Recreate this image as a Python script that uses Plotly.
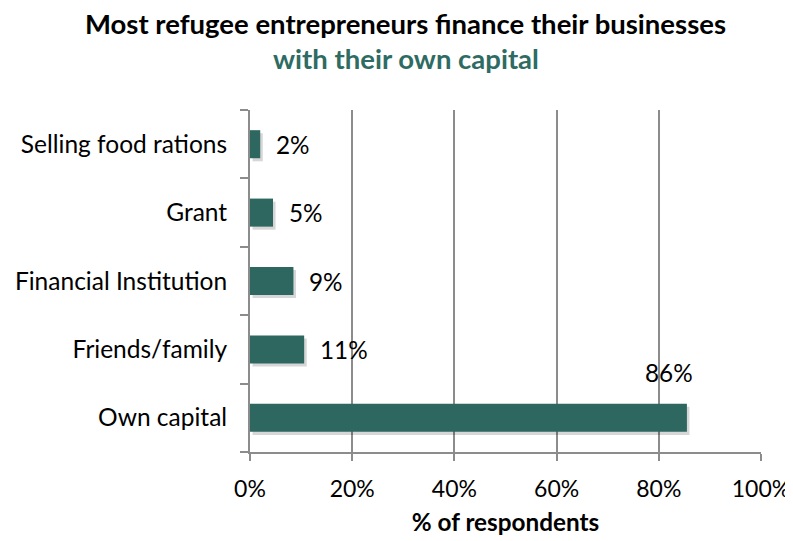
import plotly.graph_objects as go

categories = ["Own capital", "Friends/family", "Financial Institution", "Grant", "Selling food rations"]
values = [85.5, 10.6, 8.5, 4.5, 2.0]
labels = ["86%", "11%", "9%", "5%", "2%"]
x_ticks = [0, 20, 40, 60, 80, 100]
x_tick_labels = ["0%", "20%", "40%", "60%", "80%", "100%"]

BAR = "#2d6760"
TEAL = "#2e6b62"
GRID = "#8c8c8c"
FONT = "Lato"
FS = 24.5

fig = go.Figure()
# soft shadow (style only)
fig.add_trace(go.Bar(
    y=categories, x=values, orientation="h", width=0.41, base=0.5,
    marker=dict(color="rgba(0,0,0,0.16)", line=dict(width=0)),
    offset=-0.25, hoverinfo="skip", showlegend=False,
))
fig.add_trace(go.Bar(
    y=categories, x=values, orientation="h", width=0.41,
    marker=dict(color=BAR, line=dict(width=0)),
    offset=-0.205, showlegend=False,
))

for cat, v, lab in zip(categories, values, labels):
    if v > 50:
        fig.add_annotation(x=v, y=cat, text=lab, showarrow=False,
                           xanchor="center", yanchor="middle", xshift=-18, yshift=45,
                           font=dict(family=FONT, size=24.3, color="#000000"))
    else:
        fig.add_annotation(x=v, y=cat, text=lab, showarrow=False,
                           xanchor="left", yanchor="middle", xshift=14, yshift=0,
                           font=dict(family=FONT, size=24.3, color="#000000"))

fig.add_annotation(xref="paper", yref="paper", x=0.305, y=1, yshift=87,
                   text="<b>Most refugee entrepreneurs finance their businesses</b>",
                   showarrow=False, xanchor="center", yanchor="middle",
                   font=dict(family=FONT, size=27.5, color="#000000"))
fig.add_annotation(xref="paper", yref="paper", x=0.305, y=1, yshift=52,
                   text="<b>with their own capital</b>",
                   showarrow=False, xanchor="center", yanchor="middle",
                   font=dict(family=FONT, size=27.5, color=TEAL))

fig.update_layout(
    width=785, height=533,
    margin=dict(l=242, r=32, t=102, b=89),
    paper_bgcolor="white", plot_bgcolor="white",
    bargap=0.59,
    font=dict(family=FONT, size=FS, color="#000000"),
    xaxis=dict(range=[0, 100], tickvals=x_ticks, ticktext=x_tick_labels,
               showgrid=True, gridcolor=GRID, gridwidth=2,
               showline=True, linecolor=GRID, linewidth=2,
               ticks="outside", ticklen=7, tickcolor=GRID, tickwidth=2,
               zeroline=False, fixedrange=True, automargin=False,
               ticklabelstandoff=8,
               title=dict(text="<b>% of respondents</b>", font=dict(family=FONT, size=24.3), standoff=13),
               tickfont=dict(family=FONT, size=23)),
    yaxis=dict(type="category", categoryorder="array", categoryarray=categories,
               showline=True, linecolor=GRID, linewidth=2,
               ticks="outside", tickson="boundaries", ticklen=8, tickcolor=GRID, tickwidth=2,
               showgrid=False, fixedrange=True, ticklabelstandoff=16, automargin=False,
               tickfont=dict(family=FONT, size=FS)),
)

fig.write_html("out.html")
